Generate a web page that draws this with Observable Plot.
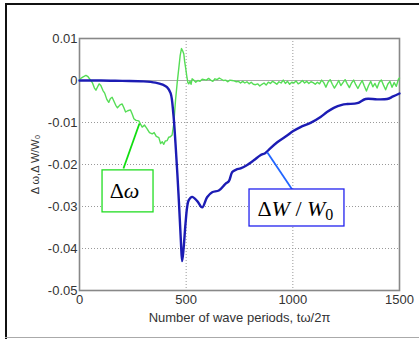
<!DOCTYPE html>
<html>
<head>
<meta charset="utf-8">
<script src="https://cdn.jsdelivr.net/npm/d3@7"></script>
<script src="https://cdn.jsdelivr.net/npm/@observablehq/plot@0.6"></script>
<style>
  html, body { margin: 0; padding: 0; background: #fff; }
  #wrap { position: relative; width: 419px; height: 339px; overflow: hidden; background: #fff; }
  #wrap .bt { position: absolute; left: 5px; top: 3px; width: 414px; height: 2px; background: #111; }
  #wrap .bl { position: absolute; left: 5px; top: 3px; width: 2px; height: 336px; background: #111; }
  #wrap .bb { position: absolute; left: 5px; top: 337px; width: 414px; height: 1px; background: #aaa; }
  #chart { position: absolute; left: 0; top: 0; }
</style>
</head>
<body>
<div id="wrap"><div id="chart"></div><div class="bt"></div><div class="bl"></div><div class="bb"></div></div>
<script>
// ---- Data ----
const xTicks = [0, 500, 1000, 1500];
const yTicks = [-0.05, -0.04, -0.03, -0.02, -0.01, 0, 0.01];

// ΔW/W0 (blue)
const blueX = [0, 100, 200, 300, 356, 390, 410, 427, 440, 450, 464, 475, 481, 488, 497, 505, 512, 528, 552, 575, 598, 622, 653, 684, 700, 716, 735, 755, 786, 817, 848, 870, 887, 927, 973, 1000, 1036, 1083, 1130, 1160, 1192, 1230, 1255, 1302, 1341, 1395, 1442, 1470, 1500];
const blueY = [0, 0, -0.0001, -0.0002, -0.0005, -0.001, -0.0016, -0.003, -0.008, -0.015, -0.027, -0.038, -0.043, -0.040, -0.034, -0.030, -0.0285, -0.0277, -0.0287, -0.0302, -0.0278, -0.0266, -0.0262, -0.0246, -0.024, -0.0218, -0.0212, -0.0209, -0.0201, -0.019, -0.0178, -0.0173, -0.0165, -0.0147, -0.0131, -0.0121, -0.0111, -0.0101, -0.0087, -0.0075, -0.0065, -0.0058, -0.0056, -0.0054, -0.0044, -0.0045, -0.0044, -0.0038, -0.0031];

// Δω (green), values ×1e-3
const greenX = [0, 15, 30, 40, 50, 60, 70, 77, 85, 92, 100, 110, 118, 128, 137, 145, 153, 162, 170, 178, 190, 200, 208, 216, 226, 239, 247, 255, 265, 278, 286, 294, 305, 317, 328, 341, 350, 360, 372, 380, 388, 395, 402, 411, 418, 426, 434, 442, 450, 458, 466, 472, 478, 484, 489, 493, 497, 503, 508, 512, 518, 523, 528, 535, 545, 555, 565, 575, 585, 595, 605, 615, 625, 635, 645, 655, 665, 675, 685, 695, 705, 715, 725, 735, 745, 755, 765, 775, 785, 795, 805, 815, 825, 835, 845, 855, 865, 875, 885, 895, 905, 915, 925, 935, 945, 955, 965, 975, 985, 995, 1005, 1015, 1025, 1035, 1045, 1055, 1065, 1075, 1085, 1095, 1105, 1115, 1125, 1135, 1145, 1155, 1165, 1175, 1185, 1195, 1205, 1215, 1225, 1235, 1245, 1255, 1265, 1275, 1285, 1295, 1305, 1315, 1325, 1335, 1345, 1355, 1365, 1375, 1385, 1395, 1405, 1415, 1425, 1435, 1445, 1455, 1465, 1475, 1485, 1495, 1500];
const greenYmilli = [0.3, 0.8, 1.2, 0.9, 0.2, -0.5, -1.8, -2.3, -1.5, -0.8, -1.2, -2.4, -3.0, -4.5, -5.2, -4.3, -4.0, -5.0, -5.9, -6.5, -5.8, -5.6, -6.5, -7.5, -7.2, -7.0, -8.0, -9.1, -9.5, -9.6, -10.4, -11.1, -10.6, -11.5, -12.4, -12.7, -12.4, -13.3, -13.6, -15.0, -14.6, -15.2, -14.4, -14.3, -13.5, -13.4, -13.0, -10.3, -4.8, -0.5, 3.2, 6.0, 7.6, 7.0, 6.3, 4.5, 3.2, 1.0, -0.5, -0.8, -0.2, -0.9, 0.4, 0.1, -0.4, 0.0, -0.2, 0.3, 0.2, 0.1, 0.5, 0.1, -0.2, 0.4, 0.2, 0.6, 0.3, 0.0, 0.1, -0.3, 0.1, 0.0, -0.1, -0.3, -0.2, -0.6, -0.2, -0.6, -0.3, -0.8, -0.4, -0.9, -1.0, -0.8, -1.3, -0.9, -0.6, -1.1, -0.4, -0.7, -0.2, -0.5, -0.9, -0.3, -0.6, 0.1, -0.7, -0.2, -0.9, -0.4, -0.6, -0.1, -0.8, -0.5, 0.0, -0.6, -0.2, -0.7, -0.3, -0.5, -0.9, -0.4, -0.8, 0.1, -0.5, -1.6, -0.4, 0.2, -0.9, -1.8, -1.0, 0.0, -1.2, -0.5, 0.2, -0.8, -1.7, -0.6, 0.1, -1.0, -1.9, -0.9, 0.0, -1.3, -2.5, -1.2, -0.2, -1.5, -0.7, -1.8, -0.4, 0.1, -1.1, -2.2, -0.9, -0.2, -1.6, -0.5, -1.4, 0.3, 0.6];

// Annotations (data coordinates)
const labelNames = ["Δω", "ΔW / W0"];
const labelX = [211, 1012];
const labelY = [-0.0262, -0.0305];
const boxX1 = [108, 797];
const boxX2 = [347, 1242];
const boxY1 = [-0.0214, -0.02595];
const boxY2 = [-0.0314, -0.03476];
const leaderX1 = [206, 997];
const leaderY1 = [-0.02095, -0.02595];
const leaderX2 = [281, 880];
const leaderY2 = [-0.01024, -0.01707];

// ---- Build tables ----
const blue = blueX.map((x, i) => ({x, y: blueY[i]}));
const green = greenX.map((x, i) => ({x, y: greenYmilli[i] / 1000}));
const ann = labelNames.map((name, i) => ({
  name, lx: labelX[i], ly: labelY[i],
  bx1: boxX1[i], bx2: boxX2[i], by1: boxY1[i], by2: boxY2[i],
  x1: leaderX1[i], y1: leaderY1[i], x2: leaderX2[i], y2: leaderY2[i]
}));
const annColors = ["#22dd22", "#2222ee"];
const leaderColors = ["#11dd11", "#2266ff"];

const fmt = d => d === 0 ? "0" : String(+d.toFixed(2));

const chart = Plot.plot({
  width: 419,
  height: 339,
  marginLeft: 79,
  marginRight: 20,
  marginTop: 38,
  marginBottom: 49,
  style: {fontFamily: "'Liberation Sans', Arial, sans-serif", fontSize: "13px", color: "#333", background: "transparent"},
  x: {domain: [0, 1500]},
  y: {domain: [-0.05, 0.01]},
  marks: [
    Plot.gridX(xTicks, {stroke: "#999", strokeOpacity: 1, strokeDasharray: "1,2", strokeWidth: 1}),
    Plot.gridY(yTicks, {stroke: "#999", strokeOpacity: 1, strokeDasharray: "1,2", strokeWidth: 1}),
    Plot.ruleY([0], {stroke: "#aaa", strokeWidth: 1.2}),
    Plot.frame({stroke: "#888", strokeWidth: 1.6}),
    Plot.axisX(xTicks, {tickSize: 0, tickPadding: 4, tickFormat: fmt, label: "Number of wave periods, tω/2π", labelAnchor: "center", labelOffset: 31, labelArrow: "none", fontSize: 13}),
    Plot.axisY(yTicks, {tickSize: 0, tickPadding: 2, tickFormat: fmt, label: null, fontSize: 13}),
    Plot.axisY([], {tickSize: 0, label: "Δ ω,Δ W/W₀", labelAnchor: "center", labelOffset: 48, labelArrow: "none", fontSize: 11}),
    Plot.line(green, {x: "x", y: "y", stroke: "#55dd55", strokeWidth: 1.4, curve: "linear"}),
    Plot.line(blue, {x: "x", y: "y", stroke: "#1c1cb4", strokeWidth: 2.4, curve: "catmull-rom"}),
    Plot.link(ann, {x1: "x1", y1: "y1", x2: "x2", y2: "y2", stroke: (d, i) => leaderColors[i], strokeWidth: 1.8}),
    Plot.rect(ann, {x1: "bx1", x2: "bx2", y1: "by1", y2: "by2", fill: "white", stroke: (d, i) => annColors[i], strokeWidth: 1.3}),
    Plot.text(ann, {x: "lx", y: "ly", text: "name", fill: "#000", fontSize: 22, fontFamily: "'Liberation Serif', 'Times New Roman', serif"})
  ]
});

// Math-style formatting of the annotation labels (italic symbols, subscript)
chart.querySelectorAll("text").forEach(t => {
  const s = t.textContent;
  let parts = null;
  if (s === "Δω") parts = [["Δ", false, false], ["ω", true, false]];
  else if (s === "ΔW / W0") parts = [["Δ", false, false], ["W", true, false], [" / ", false, false], ["W", true, false], ["0", false, true]];
  if (!parts) return;
  t.textContent = "";
  parts.forEach(([txt, ital, sub]) => {
    const ts = document.createElementNS("http://www.w3.org/2000/svg", "tspan");
    ts.textContent = txt;
    if (ital) ts.setAttribute("font-style", "italic");
    if (sub) { ts.setAttribute("dy", "0.3em"); ts.setAttribute("font-size", "16"); }
    t.appendChild(ts);
  });
});

document.getElementById("chart").appendChild(chart);
</script>
</body>
</html>
